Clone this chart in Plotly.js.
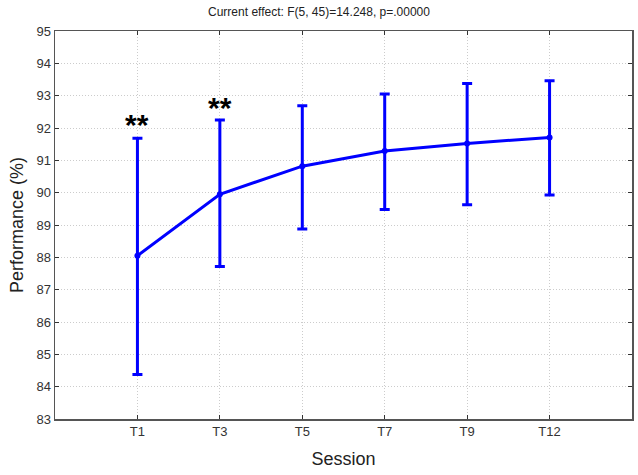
<!DOCTYPE html>
<html>
<head>
<meta charset="utf-8">
<script src="https://cdn.plot.ly/plotly-3.0.1.min.js"></script>
<style>html,body{margin:0;padding:0;background:#fff;}#chart{width:638px;height:475px;}</style>
</head>
<body>
<div id="chart"></div>
<script>
const sessions = ["T1", "T3", "T5", "T7", "T9", "T12"];
const meanPerf = [88.05, 89.95, 90.82, 91.29, 91.52, 91.71];
const upperCI = [91.68, 92.25, 92.69, 93.05, 93.38, 93.46];
const lowerCI = [84.38, 87.72, 88.88, 89.48, 89.63, 89.93];
const starLabels = ["**", "**"];
const starSessions = ["T1", "T3"];
const starY = [91.55, 92.05];
const yTicks = [83, 84, 85, 86, 87, 88, 89, 90, 91, 92, 93, 94, 95];

const errPlus = upperCI.map((u, i) => u - meanPerf[i]);
const errMinus = lowerCI.map((l, i) => meanPerf[i] - l);
const blue = "#0000ff";

const trace = {
  x: sessions,
  y: meanPerf,
  type: "scatter",
  mode: "lines+markers",
  line: {color: blue, width: 3},
  marker: {color: blue, size: 6},
  error_y: {type: "data", symmetric: false, array: errPlus, arrayminus: errMinus,
            color: blue, thickness: 3, width: 5},
  showlegend: false,
  hoverinfo: "skip"
};

const annotations = starLabels.map((s, i) => ({
  x: starSessions[i], y: starY[i], xref: "x", yref: "y",
  text: "<b>" + s + "</b>", showarrow: false, yanchor: "bottom",
  font: {family: "Liberation Sans, Arial, sans-serif", size: 30, color: "#000"}
}));

const layout = {
  width: 638, height: 475,
  margin: {l: 55, r: 6, t: 31, b: 56},
  paper_bgcolor: "#fff", plot_bgcolor: "#fff",
  font: {family: "Liberation Sans, Arial, sans-serif", color: "#222"},
  title: {text: "Current effect: F(5, 45)=14.248, p=.00000", x: 0.5, xref: "container",
          y: 0.975, yref: "container", yanchor: "middle",
          font: {size: 12, color: "#222"}},
  xaxis: {
    type: "category", categoryorder: "array", categoryarray: sessions,
    range: [-1, 6], showgrid: true, gridcolor: "#cccccc", griddash: "1px,2px", gridwidth: 1,
    showline: true, linecolor: "#555", linewidth: 1.5, mirror: "ticks",
    ticks: "inside", ticklen: 4, tickcolor: "#333",
    tickfont: {size: 13, color: "#333"},
    title: {text: "Session", font: {size: 18, color: "#222"}, standoff: 14},
    zeroline: false, fixedrange: true
  },
  yaxis: {
    range: [83, 95], tickvals: yTicks, ticktext: yTicks.map(String),
    showgrid: true, gridcolor: "#cccccc", griddash: "1px,2px", gridwidth: 1,
    showline: true, linecolor: "#555", linewidth: 1.5, mirror: "ticks",
    ticks: "inside", ticklen: 4, tickcolor: "#333",
    tickfont: {size: 13, color: "#333"},
    title: {text: "Performance (%)", font: {size: 18, color: "#222"}, standoff: 8},
    zeroline: false, fixedrange: true
  },
  annotations: annotations
};

Plotly.newPlot("chart", [trace], layout, {displayModeBar: false, staticPlot: true});
</script>
</body>
</html>
